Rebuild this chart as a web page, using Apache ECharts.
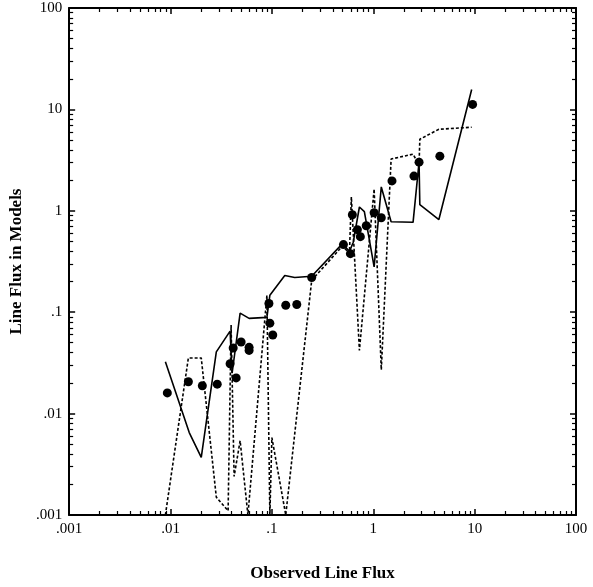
<!DOCTYPE html>
<html>
<head>
<meta charset="utf-8">
<script src="https://cdn.jsdelivr.net/npm/echarts@6/dist/echarts.min.js"></script>
<style>html,body{margin:0;padding:0;background:#fff}#c{width:593px;height:587px}</style>
</head>
<body>
<div id="c"></div>
<script>
const tickLabels = ['.001', '.01', '.1', '1', '10', '100'];

const observedX = [0.0093, 0.015, 0.0206, 0.0289, 0.0387, 0.0415, 0.0444, 0.0497, 0.0596, 0.0596,
  0.0935, 0.0955, 0.102, 0.137, 0.176, 0.247, 0.508, 0.595, 0.622, 0.697, 0.746, 0.853,
  1.02, 1.2, 1.53, 2.52, 2.83, 4.54, 9.55];
const observedY = [0.016, 0.0206, 0.0188, 0.0195, 0.031, 0.0443, 0.0225, 0.0508, 0.045, 0.042,
  0.122, 0.078, 0.0596, 0.117, 0.119, 0.22, 0.464, 0.378, 0.914, 0.652, 0.556, 0.713,
  0.956, 0.853, 1.97, 2.2, 3.02, 3.46, 11.2];

const modelAX = [0.0089, 0.0153, 0.0201, 0.0283, 0.0387, 0.0405, 0.0486, 0.0596, 0.0893, 0.0955,
  0.134, 0.168, 0.247, 0.497, 0.582, 0.635, 0.73, 0.817, 1.02, 1.2, 1.5, 2.47, 2.83, 2.88, 4.44, 9.35];
const modelAY = [0.0324, 0.0065, 0.0037, 0.0406, 0.065, 0.025, 0.098, 0.087, 0.089, 0.147,
  0.23, 0.22, 0.226, 0.475, 0.396, 0.49, 1.09, 0.98, 0.28, 1.72, 0.78, 0.77, 3.02, 1.15, 0.82, 15.7];

const modelBX = [0.0089, 0.015, 0.0201, 0.0283, 0.037, 0.0396, 0.0424, 0.0486, 0.058, 0.0893,
  0.0955, 0.1, 0.137, 0.247, 0.497, 0.582, 0.608, 0.73, 1.02, 1.2, 1.5, 2.47, 2.83, 2.88, 4.44, 9.35];
const modelBY = [0.001, 0.0354, 0.0354, 0.0015, 0.0011, 0.0746, 0.0024, 0.0054, 0.001, 0.147,
  0.001, 0.0058, 0.001, 0.206, 0.45, 0.38, 1.37, 0.042, 1.64, 0.027, 3.24, 3.62, 2.83, 5.08, 6.37, 6.67];

const zip = (a, b) => a.map((v, i) => [v, b[i]]);
const fmt = v => tickLabels[Math.round(Math.log10(v)) + 3];
const font = 'Liberation Serif';

function axis(pos, showLabel, name) {
  const isX = pos === 'bottom' || pos === 'top';
  return {
    type: 'log', logBase: 10, min: 0.001, max: 100, position: pos,
    name: name || '', nameLocation: 'middle',
    nameGap: isX ? 50 : 37,
    nameTextStyle: { fontFamily: font, fontWeight: 'bold', fontSize: 17, color: '#000' },
    axisLine: { show: true, onZero: false, lineStyle: { color: '#000', width: 2 } },
    axisTick: { show: true, inside: true, length: 6, lineStyle: { color: '#000', width: 1.5 } },
    minorTick: { show: true, splitNumber: 9, length: 4, lineStyle: { color: '#000', width: 1.2 } },
    axisLabel: { show: showLabel, formatter: fmt, fontFamily: font, fontSize: 15, color: '#000', margin: 7 },
    splitLine: { show: false }, minorSplitLine: { show: false }
  };
}

const chart = echarts.init(document.getElementById('c'));
chart.setOption({
  animation: false,
  backgroundColor: '#fff',
  grid: { left: 66, right: 17, top: 8, bottom: 69, containLabel: false },
  xAxis: [axis('bottom', true, 'Observed Line Flux'), axis('top', false)],
  yAxis: [axis('left', true, 'Line Flux in Models'), axis('right', false)],
  series: [
    { type: 'line', data: zip(modelAX, modelAY), symbol: 'none', clip: true,
      lineStyle: { color: '#000', width: 1.6 } },
    { type: 'line', data: zip(modelBX, modelBY), symbol: 'none', clip: true,
      lineStyle: { color: '#000', width: 1.6, type: [3, 2] } },
    { type: 'scatter', data: zip(observedX, observedY), symbolSize: 9,
      itemStyle: { color: '#000', opacity: 1 } }
  ]
});
</script>
</body>
</html>
